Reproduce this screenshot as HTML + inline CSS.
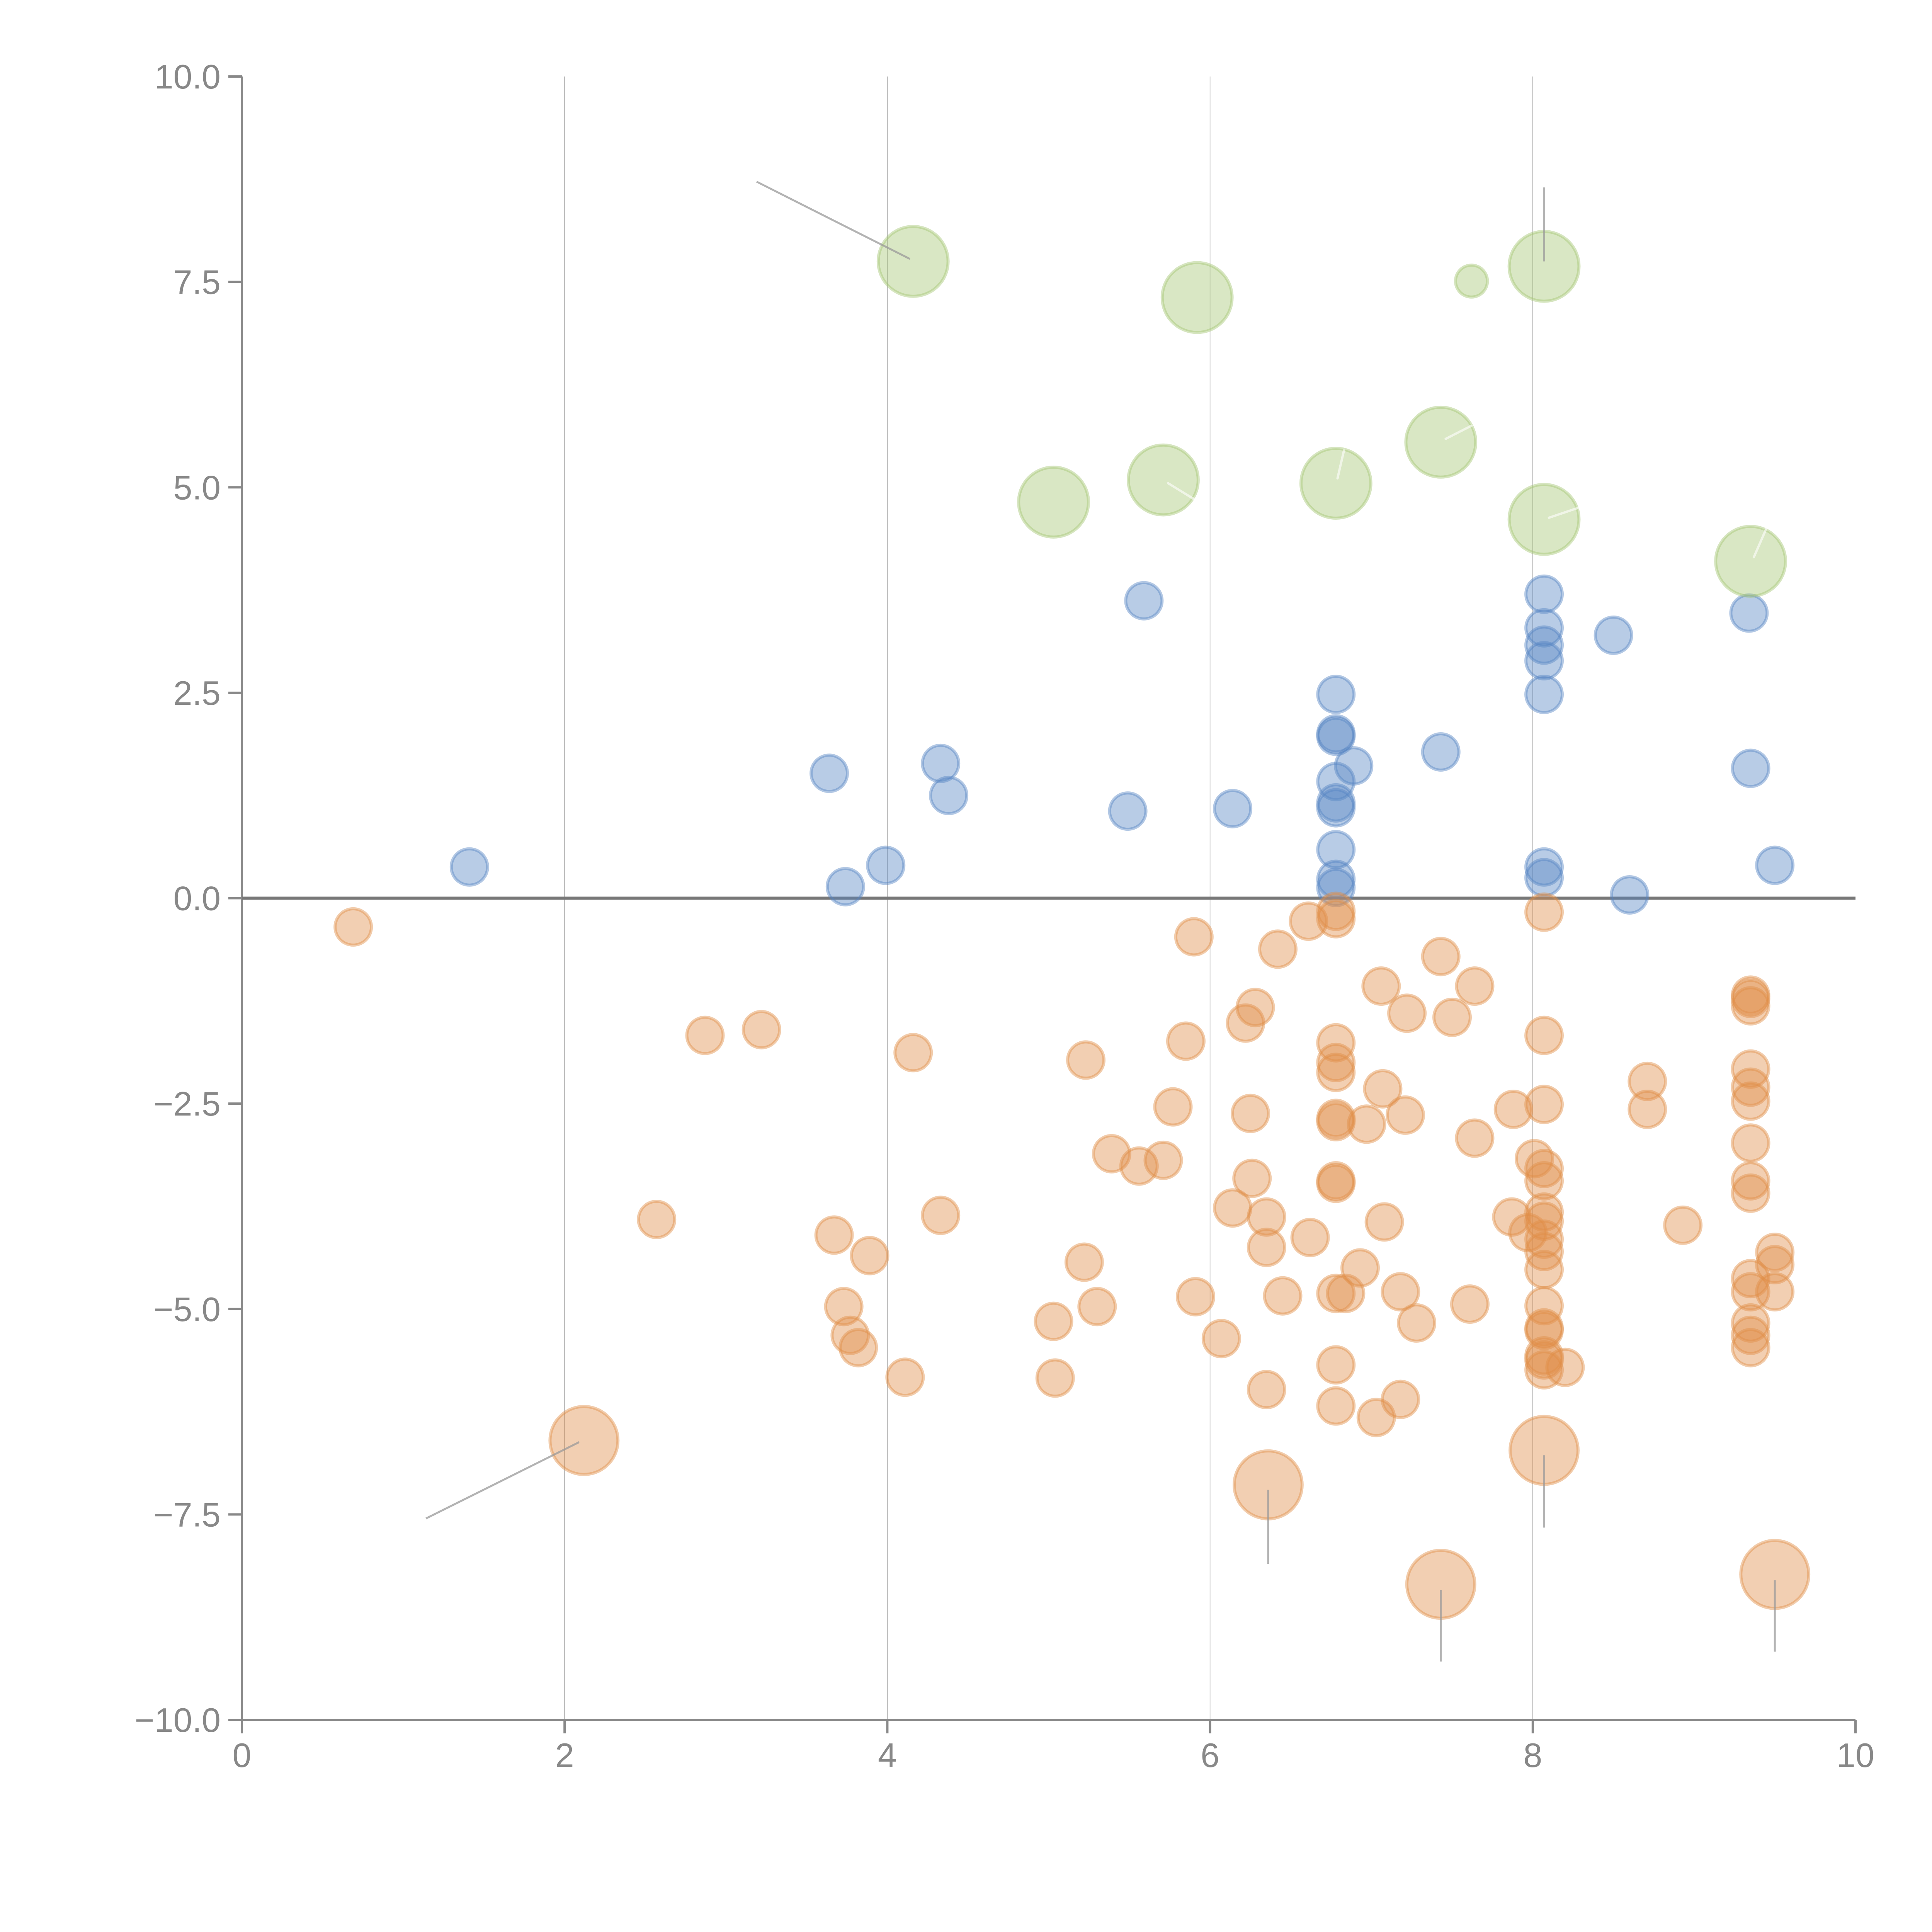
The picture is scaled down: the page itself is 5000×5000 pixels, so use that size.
<!DOCTYPE html>
<html><head><meta charset="utf-8"><style>
html,body{margin:0;padding:0;background:#fff;width:5000px;height:5000px;overflow:hidden}
svg{display:block}
svg text{font-family:"Liberation Sans",Arial,sans-serif;fill:#888}
</style></head><body>
<svg id="chart" width="5000" height="5000" xmlns="http://www.w3.org/2000/svg"></svg>
<script>
const xTicks=[0,2,4,6,8,10];
const yTicks=[-10,-7.5,-5,-2.5,0,2.5,5,7.5,10];
const yTickLabels=["\u221210.0","\u22127.5","\u22125.0","\u22122.5","0.0","2.5","5.0","7.5","10.0"];
const xTickLabels=["0","2","4","6","8","10"];
const gridX=[2,4,6,8];

const blueX=[1.41,3.64,3.74,3.99,4.33,4.38,5.59,5.49,6.14,6.78,6.78,6.78,6.89,6.78,6.78,6.78,6.78,6.78,6.78,7.43,8.07,8.07,8.07,8.07,8.07,8.07,8.07,8.50,8.60,9.34,9.35,9.50];
const blueY=[0.38,1.52,0.14,0.40,1.64,1.25,3.62,1.06,1.09,2.48,1.97,2.0,1.61,1.42,1.16,1.10,0.59,0.23,0.13,1.78,3.70,3.29,3.08,2.89,2.48,0.38,0.25,3.20,0.04,3.47,1.58,0.40];

const orangeX=[0.69,2.57,2.87,3.22,3.67,3.73,3.77,3.82,3.89,4.11,4.16,4.33,5.03,5.04,5.23,5.22,5.30,5.39,5.56,5.71,5.77,5.85,5.90,5.91,6.07,6.14,6.22,6.28,6.25,6.26,6.35,6.35,6.35,6.42,6.45,6.61,6.62,6.78,6.78,6.78,6.78,6.78,6.78,6.78,6.78,6.78,6.78,6.84,6.78,6.78,6.97,6.93,7.03,7.06,7.07,7.08,7.18,7.18,7.22,7.21,7.28,7.43,7.50,7.64,7.64,7.61,7.88,7.87,7.97,8.01,8.07,8.07,8.07,8.07,8.07,8.07,8.07,8.07,8.07,8.07,8.07,8.07,8.07,8.07,8.07,8.07,8.20,8.71,8.71,8.93,9.35,9.35,9.35,9.35,9.35,9.35,9.35,9.35,9.35,9.35,9.35,9.35,9.35,9.35,9.50,9.50,9.50];
const orangeY=[-0.35,-3.91,-1.67,-1.60,-4.10,-4.97,-5.32,-5.47,-4.35,-5.83,-1.88,-3.86,-5.15,-5.84,-1.97,-4.43,-4.97,-3.11,-3.26,-3.19,-2.54,-1.74,-0.47,-4.85,-5.36,-3.77,-1.52,-1.33,-2.62,-3.41,-3.88,-4.25,-5.98,-0.62,-4.84,-0.28,-4.13,-0.16,-0.25,-1.76,-2.00,-2.12,-2.68,-2.72,-3.44,-3.47,-4.81,-4.81,-5.68,-6.18,-2.75,-4.50,-6.32,-1.07,-2.32,-3.94,-4.79,-6.10,-1.40,-2.64,-5.17,-0.71,-1.45,-1.07,-2.92,-4.94,-2.57,-3.88,-4.07,-3.17,-0.17,-1.67,-2.51,-3.29,-3.44,-3.82,-3.93,-4.15,-4.30,-4.52,-4.96,-5.23,-5.26,-5.57,-5.62,-5.74,-5.71,-2.23,-2.57,-3.98,-1.18,-1.22,-1.31,-2.08,-2.30,-2.47,-2.98,-3.44,-3.59,-4.63,-4.79,-5.17,-5.32,-5.47,-4.31,-4.46,-4.79];

const bigOrangeX=[2.12,6.36,8.07,7.43,9.50];
const bigOrangeY=[-6.60,-7.14,-6.72,-8.35,-8.23];

const greenX=[4.16,5.92,7.62,8.07,7.43,5.71,6.78,5.03,8.07,9.35];
const greenY=[7.75,7.31,7.51,7.69,5.55,5.09,5.05,4.82,4.61,4.10];
const greenSize=[3.7,3.7,0.77,3.7,3.7,3.7,3.7,3.7,3.7,3.7];

const leaderX1=[3.19,8.07,1.14,6.36,8.07,7.43,9.50];
const leaderY1=[8.72,8.65,-7.55,-8.10,-7.66,-9.29,-9.17];
const leaderX2=[4.14,8.07,2.09,6.36,8.07,7.43,9.50];
const leaderY2=[7.78,7.75,-6.62,-7.20,-6.78,-8.42,-8.30];
const innerX1=[7.46,5.74,6.79,8.10,9.37];
const innerY1=[5.59,5.05,5.11,4.63,4.15];
const innerX2=[7.62,5.99,6.83,8.28,9.45];
const innerY2=[5.75,4.75,5.45,4.75,4.51];

const X0=626,X1=4802,Y0=4451,Y1=198;
function sx(v){return X0+(v-0)/(10-0)*(X1-X0);}
function sy(v){return Y0-(v+10)/20*(Y0-Y1);}
function sr(s){return 47*Math.sqrt(s);}
const NS="http://www.w3.org/2000/svg";
const svg=document.getElementById('chart');
function mk(tag,attrs,parent){const e=document.createElementNS(NS,tag);for(const k in attrs)e.setAttribute(k,attrs[k]);(parent||svg).appendChild(e);return e;}

const grid=mk('g',{});


gridX.forEach(v=>{const l=mk('line',{x1:sx(v),x2:sx(v),y1:Y1,y2:Y0,stroke:'#aaa','stroke-width':1.6},grid);

});

const axes=mk('g',{stroke:'#888','stroke-width':6,fill:'none'});


const ya=mk('line',{x1:X0,x2:X0,y1:Y1,y2:Y0+35},axes);


const xa=mk('line',{x1:X0-35,x2:X1,y1:Y0,y2:Y0},axes);


yTicks.forEach((v,i)=>{const t=mk('line',{x1:X0-35,x2:X0,y1:sy(v),y2:sy(v)},axes);


const tx=mk('text',{x:X0-55,y:sy(v)+31,'text-anchor':'end','font-size':88});tx.textContent=yTickLabels[i];

});
xTicks.forEach((v,i)=>{const t=mk('line',{x1:sx(v),x2:sx(v),y1:Y0,y2:Y0+35},axes);


const tx=mk('text',{x:sx(v),y:Y0+122,'text-anchor':'middle','font-size':88});tx.textContent=xTickLabels[i];

});

const zl=mk('line',{x1:X0,x2:X1,y1:sy(0),y2:sy(0),stroke:'#777','stroke-width':8});



function series(xs,ys,sizes,fill,name){
  const g=mk('g',{});
  
  
  xs.forEach((x,i)=>{const c=mk('circle',{cx:sx(x),cy:sy(ys[i]),r:sr(sizes?sizes[i]:1),fill:fill,'fill-opacity':0.42,stroke:fill,'stroke-opacity':0.45,'stroke-width':8},g);
  
  });
}
series(blueX,blueY,null,'#5686c4','blue');
series(orangeX,orangeY,null,'#e08d48','orange');
series(bigOrangeX,bigOrangeY,bigOrangeX.map(()=>3.5),'#e08d48','orange-large');
series(greenX,greenY,greenSize,'#a4c673','green');

leaderX1.forEach((v,i)=>{const l=mk('line',{x1:sx(v),y1:sy(leaderY1[i]),x2:sx(leaderX2[i]),y2:sy(leaderY2[i]),stroke:'#999','stroke-opacity':0.75,'stroke-width':5});

});
innerX1.forEach((v,i)=>{const l=mk('line',{x1:sx(v),y1:sy(innerY1[i]),x2:sx(innerX2[i]),y2:sy(innerY2[i]),stroke:'#fff','stroke-opacity':0.6,'stroke-width':6,'stroke-linecap':'round'});

});
</script>
</body></html>
